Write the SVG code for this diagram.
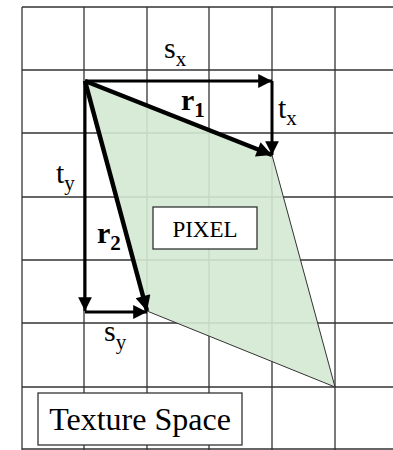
<svg xmlns="http://www.w3.org/2000/svg" width="393" height="450" viewBox="0 0 393 450">
<style>
.grid line{stroke:#333;stroke-width:1.3}
.vec{stroke:#000;stroke-width:3;fill:none}
.vecb{stroke:#000;stroke-width:4.5;fill:none}
.lbl{font-family:"Liberation Serif","Times New Roman",serif;font-size:30px;fill:#000}
.sub{font-size:21px}
.bold{font-weight:bold}
.box{fill:#fff;stroke:#333;stroke-width:1.3}
</style>
<defs>
<marker id="ah" viewBox="0 0 10 10" refX="10" refY="5" markerWidth="5" markerHeight="4.6" orient="auto" markerUnits="strokeWidth">
<path d="M0,0 L10,5 L0,10 z" fill="#000"/>
</marker>
<marker id="ahb" viewBox="0 0 10 10" refX="10" refY="5" markerWidth="3.8" markerHeight="3.4" orient="auto" markerUnits="strokeWidth">
<path d="M0,0 L10,5 L0,10 z" fill="#000"/>
</marker>
</defs>
<rect width="393" height="450" fill="#fff"/>
<g id="grid" class="grid">
<line x1="22" y1="7" x2="393" y2="7"/>
<line x1="22" y1="70" x2="393" y2="70"/>
<line x1="22" y1="133" x2="393" y2="133"/>
<line x1="22" y1="197" x2="393" y2="197"/>
<line x1="22" y1="260" x2="393" y2="260"/>
<line x1="22" y1="323" x2="393" y2="323"/>
<line x1="22" y1="387" x2="393" y2="387"/>
<line x1="22" y1="449" x2="393" y2="449"/>
<line x1="22" y1="7" x2="22" y2="450"/>
<line x1="84" y1="7" x2="84" y2="450"/>
<line x1="147" y1="7" x2="147" y2="450"/>
<line x1="209" y1="7" x2="209" y2="450"/>
<line x1="272" y1="7" x2="272" y2="450"/>
<line x1="335" y1="7" x2="335" y2="450"/>
</g>
<g id="pixel-area">
<polygon points="85,81 272,155 335,387 147,311" fill="#d3e9d1" fill-opacity="0.9" stroke="#333" stroke-width="1"/>
</g>
<g id="connectors">
<line class="vec" x1="85" y1="81" x2="272" y2="81" marker-end="url(#ah)"/>
<line class="vec" x1="272" y1="81" x2="272" y2="155" marker-end="url(#ah)"/>
<line class="vec" x1="85" y1="81" x2="85" y2="311" marker-end="url(#ah)"/>
<line class="vec" x1="85" y1="312" x2="147" y2="312" marker-end="url(#ah)"/>
<line class="vecb" x1="85" y1="81" x2="272" y2="155" marker-end="url(#ahb)"/>
<line class="vecb" x1="85" y1="81" x2="147" y2="311" marker-end="url(#ahb)"/>
</g>
<g id="labels">
<text class="lbl" x="164" y="58">s<tspan class="sub" dy="8">x</tspan></text>
<text class="lbl" x="278" y="118">t<tspan class="sub" dy="7">x</tspan></text>
<text class="lbl" x="56" y="183">t<tspan class="sub" dy="7">y</tspan></text>
<text class="lbl" x="104" y="341">s<tspan class="sub" dy="8">y</tspan></text>
<text class="lbl bold" x="181" y="110">r<tspan class="sub" dy="7">1</tspan></text>
<text class="lbl bold" x="97" y="243">r<tspan class="sub" dy="7">2</tspan></text>
</g>
<g id="pixel-node">
<rect class="box" x="153" y="207" width="104" height="42"/>
<text class="lbl" x="205" y="237" text-anchor="middle" style="font-size:23px">PIXEL</text>
</g>
<g id="texture-space-node">
<rect class="box" x="38" y="393" width="204" height="52"/>
<text class="lbl" x="140" y="430" text-anchor="middle" style="font-size:32px">Texture Space</text>
</g>
</svg>
